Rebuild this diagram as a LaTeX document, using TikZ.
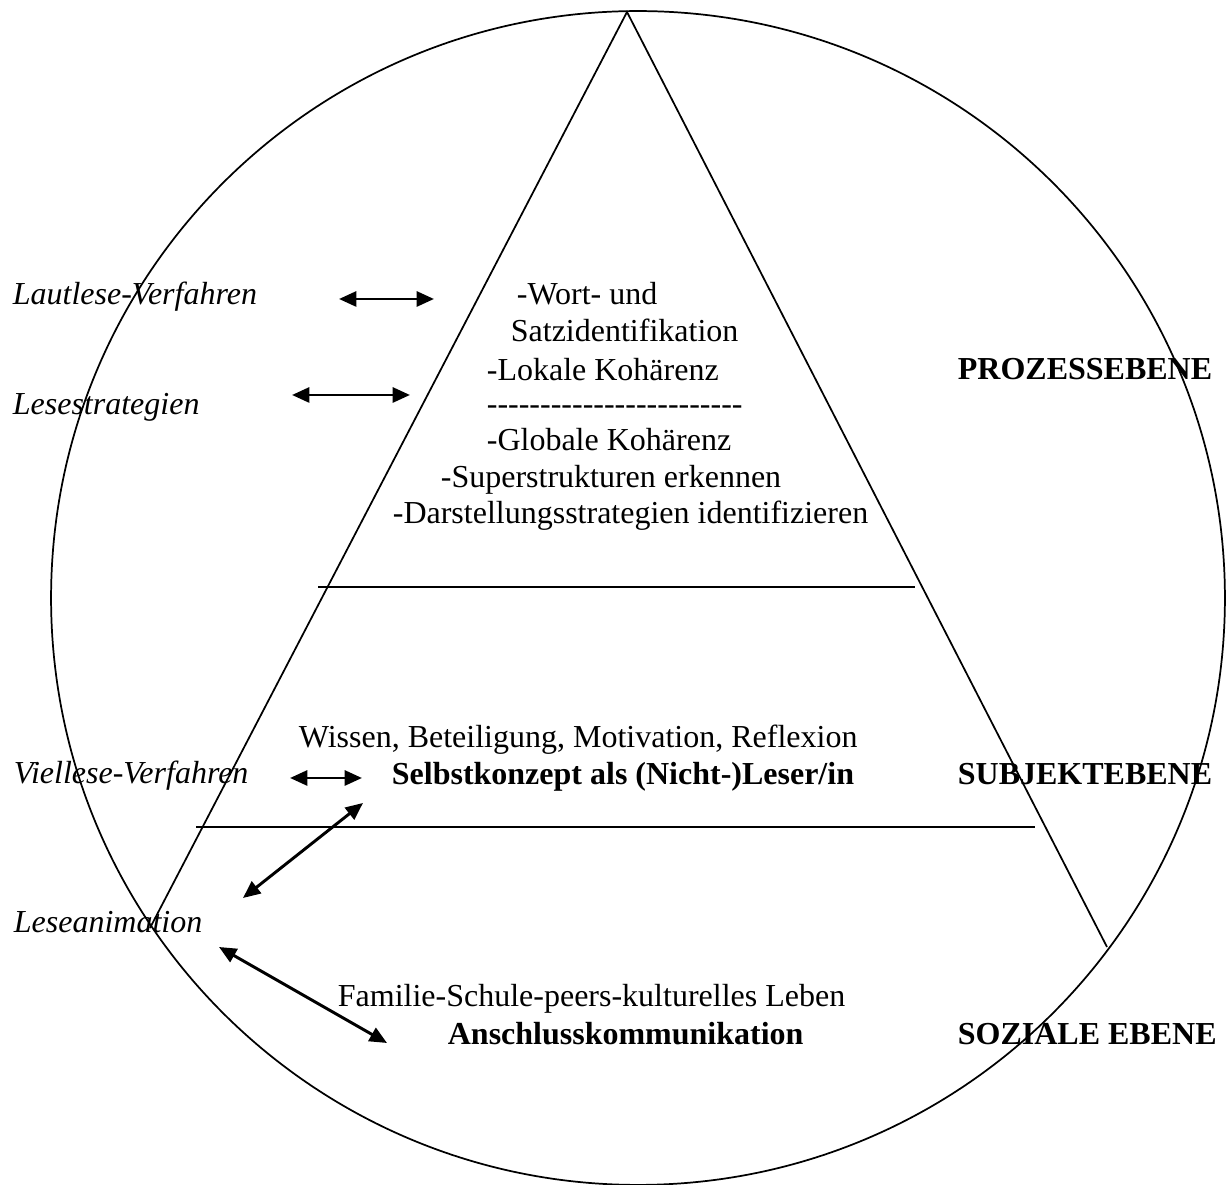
\documentclass[tikz,border=0pt]{standalone}
\usepackage{fontspec}
\setmainfont{Liberation Serif}
\usetikzlibrary{arrows.meta, positioning}

\begin{document}
\begin{tikzpicture}[x=0.375pt, y=-0.375pt, line width=0.65pt, >={Triangle[length=6.5pt, width=5.6pt]}]
		\tikzstyle{every node}=[inner sep=0pt, anchor=base west, font=\fontsize{12}{14}\selectfont]
		\tikzstyle{italnode}=[font=\fontsize{12}{14}\selectfont\itshape]
		\tikzstyle{boldnode}=[font=\fontsize{12}{14}\selectfont\bfseries]
		\tikzstyle{link}=[<->, line width=1.1pt]
		
		\useasboundingbox (0,0) rectangle (1227,1185);
		
		% Kreis und Pyramide
		\draw (638,598) circle [radius=220.1pt];
		\coordinate (spitze) at (627,12);
		\draw (150,928) -- (spitze) -- (1107,947);
		\draw (318,587) -- (915,587);
		\draw (196,827) -- (1035,827);
		
		% Verfahren links
		\node[italnode] (lautlese)  at (12,305) {Lautlese-Verfahren};
		\node[italnode] (lesestrat) at (12,415) {Lesestrategien};
		\node[italnode] (viellese)  at (13,784) {Viellese-Verfahren};
		\node[italnode] (animation) at (13,933) {Leseanimation};
		
		% Prozessebene
		\node (wort)   at (516,305) {-Wort- und};
		\node (satz)   at (510,342) {Satzidentifikation};
		\node (lokal)  at (486,381) {-Lokale Kohärenz};
		\node (strich) at (486,415) {\foreach \i in {1,...,24}{\mbox{-}}};
		\node (global) at (486,451) {-Globale Kohärenz};
		\node (super)  at (440,488) {-Superstrukturen erkennen};
		\node (darst)  at (392,524) {-Darstellungsstrategien identifizieren};
		
		% Subjektebene und soziale Ebene
		\node (wissen)              at (298,748)  {Wissen, Beteiligung, Motivation, Reflexion};
		\node[boldnode] (selbst)    at (391,785)  {Selbstkonzept als (Nicht-)Leser/in};
		\node (familie)             at (337,1007) {Familie-Schule-peers-kulturelles Leben};
		\node[boldnode] (anschluss) at (447,1045) {Anschlusskommunikation};
		
		% Ebenen rechts
		\node[boldnode] (prozess) at (957,380)  {PROZESSEBENE};
		\node[boldnode] (subjekt) at (957,785)  {SUBJEKTEBENE};
		\node[boldnode] (sozial)  at (957,1045) {SOZIALE EBENE};
		
		% Pfeile
		\coordinate (a1) at (339,299);  \coordinate (b1) at (434,299);
		\coordinate (a2) at (292,395);  \coordinate (b2) at (410,395);
		\coordinate (a3) at (290,778);  \coordinate (b3) at (362,778);
		\coordinate (a4) at (243,898);  \coordinate (b4) at (363,803);
		\coordinate (a5) at (219,947);  \coordinate (b5) at (387,1043);
		
		\path (a1) edge[link] (b1)
		(a2) edge[link] (b2)
		(a3) edge[link] (b3)
		(a4) edge[link] (b4)
		(a5) edge[link] (b5);
	\end{tikzpicture}
\end{document}
